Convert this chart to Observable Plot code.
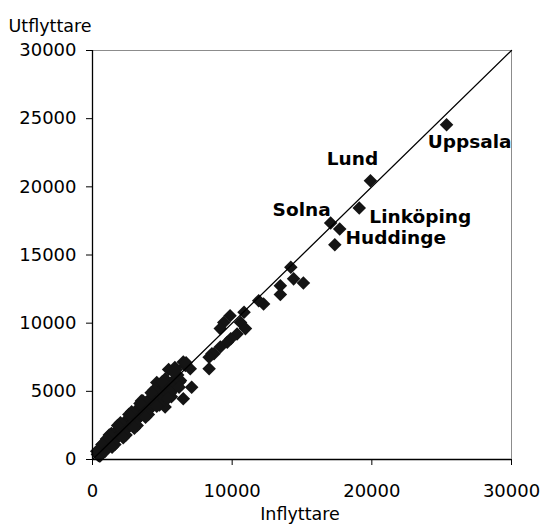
<!DOCTYPE html>
<html>
<head>
<meta charset="utf-8">
<script src="https://cdn.jsdelivr.net/npm/d3@7"></script>
<script src="https://cdn.jsdelivr.net/npm/@observablehq/plot@0.6"></script>
<style>
  html, body { margin: 0; padding: 0; background: white; }
</style>
</head>
<body>
<div id="chart"></div>
<script>
// Named municipalities
const namedCities = ["Uppsala", "Lund", "Linköping", "Solna", "Huddinge"];
const namedIn  = [25350, 19900, 19100, 17050, 17700];
const namedOut = [24550, 20450, 18450, 17350, 16900];

// Other municipalities (inflyttare, utflyttare)
const otherIn = [
  17350, 14200, 14400, 15100, 13450, 13450, 12250, 11900, 10850, 9850,
  9400, 9150, 10600, 10950, 10350, 9900, 9650, 9150, 8700, 8550,
  8350, 8350, 7000, 6650, 6500, 7100, 6500, 5900, 4600,
  350, 420, 450, 500, 560, 600, 650, 700, 750, 780,
  820, 850, 880, 920, 950, 1000, 1030, 1080, 1100, 1150,
  1180, 1220, 1250, 1300, 1320, 1350, 1380, 1420, 1450, 1500,
  1520, 1550, 1580, 1600, 1650, 1680, 1700, 1750, 1780, 1800,
  1850, 1880, 1900, 1950, 2000, 2050, 2100, 2150, 2200, 2250,
  2300, 2350, 2400, 2450, 2500, 2550, 2600, 2650, 2700, 2750,
  2800, 2850, 2900, 2950, 3000, 3050, 3100, 3150, 3200, 3250,
  3300, 3350, 3400, 3450, 3500, 3550, 3600, 3650, 3700, 3750,
  3800, 3900, 4000, 4100, 4200, 4300, 4400, 4500, 4650, 4750,
  4850, 4950, 5100, 5200, 5250, 5400, 5450, 5550, 5650, 5700,
  5800, 6000, 6100, 6250, 680, 560,
  1200, 1600, 2000, 2400, 2800, 3200, 3600, 4000, 4400, 4800,
  5200, 5600, 6000, 6300, 6700, 1000, 1400, 1800, 2200, 2600,
  3000, 3400, 3800, 4200, 4600, 5000, 5400, 5800, 6200, 700,
  500, 900, 300
];
const otherOut = [
  15750, 14100, 13250, 12950, 12750, 12100, 11400, 11650, 10800, 10550,
  10050, 9600, 10050, 9600, 9200, 8850, 8600, 8250, 7750, 7750,
  7500, 6650, 6650, 6900, 7150, 5300, 4450, 6750, 5650,
  380, 300, 520, 430, 600, 520, 720, 610, 820, 690,
  900, 1150, 760, 1000, 850, 1120, 930, 1200, 1000, 1300,
  1050, 1350, 1150, 1450, 1200, 1900, 1300, 1600, 1350, 1700,
  1400, 1800, 1450, 1650, 1900, 1550, 2000, 1600, 2100, 1750,
  2200, 1700, 2300, 1850, 2400, 1900, 2500, 2000, 2600, 2100,
  1750, 2700, 2250, 2900, 2300, 2950, 2450, 3100, 2550, 3200,
  2600, 3300, 2700, 3400, 2800, 3500, 2900, 3550, 3000, 3650,
  3050, 3750, 3150, 3900, 4300, 3300, 3950, 3400, 4050, 3450,
  4150, 3600, 4350, 3700, 4500, 3900, 4650, 4100, 4300, 4900,
  4400, 5100, 4600, 3850, 5300, 4800, 6600, 5400, 4600, 5700,
  5200, 5500, 6200, 5700, 1100, 280,
  1800, 1100, 2700, 1800, 3500, 2500, 4300, 3300, 5100, 4000,
  5900, 4900, 6600, 5800, 7100, 1500, 900, 2500, 1600, 3300,
  2300, 4100, 3100, 4900, 3900, 5700, 4500, 6400, 5300, 1100,
  250, 600, 600
];

const axisTicksX = [0, 10000, 20000, 30000];
const axisTicksY = [0, 5000, 10000, 15000, 20000, 25000, 30000];
const diagonal = [0, 30000];

const named = namedCities.map((c, i) => ({city: c, inn: namedIn[i], out: namedOut[i]}));
const others = otherIn.map((v, i) => ({inn: v, out: otherOut[i]}));
const all = others.concat(named);

// label offsets (pixels) relative to each labelled point
const labelOffsets = {
  "Uppsala":   {dx: 23, dy: 17},
  "Lund":      {dx: -18, dy: -22},
  "Linköping": {dx: 61, dy: 9},
  "Solna":     {dx: -29, dy: -13},
  "Huddinge":  {dx: 56, dy: 9}
};

const font = "DejaVu Sans, Liberation Sans, Arial, sans-serif";

const chart = Plot.plot({
  width: 542,
  height: 532,
  marginLeft: 92,
  marginRight: 31,
  marginTop: 50,
  marginBottom: 73,
  style: {fontFamily: font, fontSize: "18px", color: "black", background: "white"},
  x: {domain: [0, 30000], ticks: axisTicksX, tickFormat: d3.format("d")},
  y: {domain: [0, 30000], ticks: axisTicksY, tickFormat: d3.format("d")},
  marks: [
    Plot.ruleY([30000], {stroke: "#8c8c8c", strokeWidth: 1}),
    Plot.ruleX([30000], {stroke: "#8c8c8c", strokeWidth: 1}),
    Plot.axisX({ticks: axisTicksX, tickFormat: d3.format("d"), tickSize: 6, tickPadding: 19, fontSize: 18, label: null, stroke: "black"}),
    Plot.axisY({ticks: axisTicksY, tickFormat: d3.format("d"), tickSize: 6, tickPadding: 10, fontSize: 18, label: null, stroke: "black"}),
    Plot.dot(all, {x: "inn", y: "out", symbol: "diamond2", r: 6.1, fill: "#141414", stroke: "none"}),
    Plot.line(diagonal.map(d => ({a: d})), {x: "a", y: "a", stroke: "black", strokeWidth: 1.3}),
    Plot.ruleX([0], {stroke: "black", strokeWidth: 1.3}),
    Plot.ruleY([0], {stroke: "black", strokeWidth: 1.3}),
    ...named.map(d => Plot.text([d], {
      x: "inn", y: "out", text: "city",
      dx: labelOffsets[d.city].dx, dy: labelOffsets[d.city].dy,
      fontWeight: "bold", fontSize: 18.5, fill: "black", textAnchor: "middle"
    })),
    Plot.text(["Utflyttare"], {frameAnchor: "top-left", dx: -84, dy: -31, textAnchor: "start", fontSize: 17.5, fill: "black"}),
    Plot.text(["Inflyttare"], {frameAnchor: "bottom", dx: -2, dy: 60, textAnchor: "middle", fontSize: 17.5, fill: "black"})
  ]
});
document.getElementById("chart").appendChild(chart);
</script>
</body>
</html>
